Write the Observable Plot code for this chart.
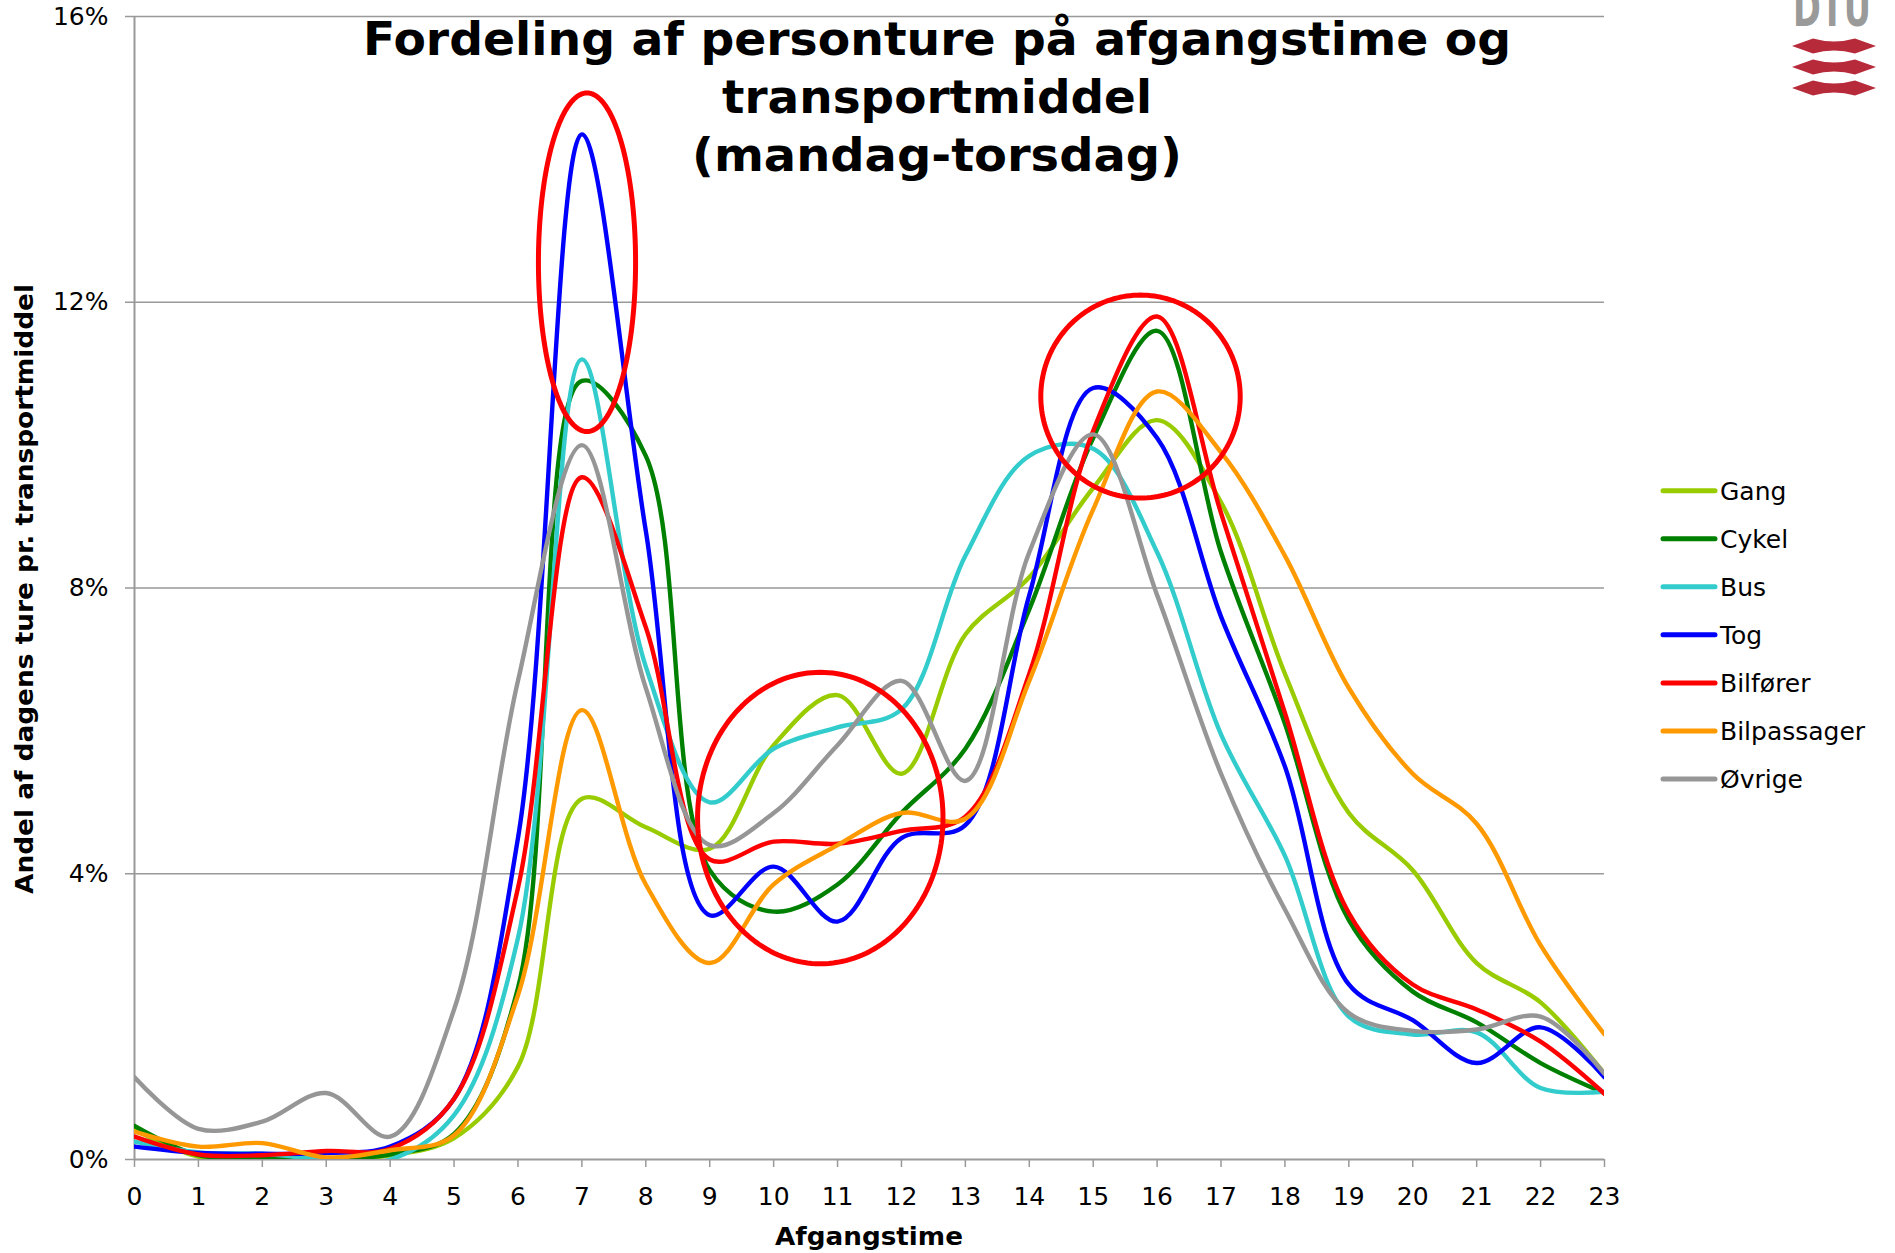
<!DOCTYPE html>
<html>
<head>
<meta charset="utf-8">
<script src="https://cdn.jsdelivr.net/npm/d3@7"></script>
<script src="https://cdn.jsdelivr.net/npm/@observablehq/plot@0.6"></script>
<style>
  html, body { margin: 0; padding: 0; background: #fff; }
  #wrap { position: relative; width: 1895px; height: 1253px; overflow: hidden; background: #fff; }
  #wrap > svg { position: absolute; left: 0; top: 0; }
</style>
</head>
<body>
<div id="wrap"></div>
<script>
// ---------- data ----------
const hours = [0, 1, 2, 3, 4, 5, 6, 7, 8, 9, 10, 11, 12, 13, 14, 15, 16, 17, 18, 19, 20, 21, 22, 23];
const yTicks = [0, 4, 8, 12, 16];
const gridTicks = [4, 8, 12, 16];

const seriesNames  = ["Gang", "Cykel", "Bus", "Tog", "Bilfører", "Bilpassager", "Øvrige"];
const seriesColors = ["#99cc00", "#008000", "#33cccc", "#0000ff", "#ff0000", "#ff9900", "#969696"];

// share of the day's trips (%) per departure hour
const gang        = [0.42, 0.04, 0.03, 0.00, 0.06, 0.30, 1.30, 5.05, 4.65, 4.35, 5.80, 6.50, 5.40, 7.35, 8.15, 9.40, 10.35, 9.20, 6.80, 4.85, 4.05, 2.75, 2.20, 1.20];
const cykel       = [0.47, 0.06, 0.03, 0.01, 0.07, 0.36, 2.40, 10.90, 9.85, 4.05, 3.47, 3.85, 4.85, 5.75, 7.70, 10.10, 11.60, 8.50, 6.10, 3.35, 2.35, 1.92, 1.35, 0.93];
const bus         = [0.25, 0.10, 0.08, 0.00, 0.00, 0.62, 3.10, 11.20, 6.90, 5.00, 5.75, 6.05, 6.30, 8.45, 9.85, 9.95, 8.50, 5.95, 4.25, 2.00, 1.75, 1.78, 1.00, 0.95];
const tog         = [0.18, 0.09, 0.08, 0.09, 0.18, 0.85, 4.50, 14.35, 8.80, 3.42, 4.10, 3.33, 4.50, 4.68, 7.90, 10.80, 10.10, 7.60, 5.50, 2.45, 1.95, 1.35, 1.85, 1.15];
const bilforer    = [0.32, 0.07, 0.06, 0.12, 0.15, 0.85, 3.80, 9.55, 7.45, 4.20, 4.45, 4.42, 4.60, 4.80, 6.80, 10.20, 11.80, 9.05, 6.25, 3.45, 2.45, 2.10, 1.65, 0.92];
const bilpassager = [0.39, 0.18, 0.23, 0.03, 0.13, 0.34, 2.30, 6.29, 3.85, 2.75, 3.85, 4.40, 4.85, 4.77, 6.70, 9.10, 10.75, 9.90, 8.45, 6.60, 5.40, 4.70, 3.00, 1.75];
const ovrige      = [1.15, 0.43, 0.53, 0.93, 0.32, 2.10, 6.70, 10.00, 6.60, 4.40, 4.85, 5.80, 6.70, 5.30, 8.50, 10.15, 7.90, 5.40, 3.50, 2.05, 1.80, 1.82, 2.00, 1.20];

const seriesValues = [gang, cykel, bus, tog, bilforer, bilpassager, ovrige];

// red highlight ellipses (centre hour, centre %, half-width in hours, half-height in %)
const highlightHour  = [7.08, 10.73, 15.74];
const highlightPct   = [12.56, 4.78, 10.68];
const highlightRHour = [0.76, 1.92, 1.56];
const highlightRPct  = [2.37, 2.04, 1.42];

const titleLines = ["Fordeling af personture på afgangstime og", "transportmiddel", "(mandag-torsdag)"];
const xLabel = "Afgangstime";
const yLabel = "Andel af dagens ture pr. transportmiddel";

// ---------- tables built from the arrays ----------
const table = seriesNames.flatMap((name, i) =>
  hours.map((h, j) => ({ series: name, hour: h, value: seriesValues[i][j] })));

const ellipsePts = highlightHour.flatMap((cx, k) =>
  d3.range(0, 181).map(i => {
    const t = (i / 180) * 2 * Math.PI;
    return { k, hour: cx + highlightRHour[k] * Math.cos(t), pct: highlightPct[k] + highlightRPct[k] * Math.sin(t) };
  }));

// ---------- chart ----------
const FONT = "'DejaVu Sans', Verdana, sans-serif";
const chart = Plot.plot({
  width: 1895,
  height: 1253,
  marginLeft: 134,
  marginRight: 291,
  marginTop: 16,
  marginBottom: 94,
  style: { fontFamily: FONT, fontSize: "24px", color: "#000", background: "#fff", overflow: "visible" },
  x: { domain: [0, 23] },
  y: { domain: [0, 16] },
  color: { domain: seriesNames, range: seriesColors },
  marks: [
    Plot.gridY(gridTicks, { stroke: "#999", strokeOpacity: 1, strokeWidth: 1.5 }),
    Plot.ruleY([0], { stroke: "#999", strokeWidth: 2 }),
    Plot.ruleX([0], { stroke: "#999", strokeWidth: 2 }),
    Plot.axisX(hours, { tickSize: 8, tickPadding: 20, fontSize: 25, stroke: "#999", strokeWidth: 1.5, fill: "#000", label: null, tickFormat: d => String(d) }),
    Plot.axisY(yTicks, { tickSize: 9, tickPadding: 17, fontSize: 25, stroke: "#999", strokeWidth: 1.5, fill: "#000", label: null, tickFormat: d => d + "%" }),
    Plot.line(table, { x: "hour", y: "value", z: "series", stroke: "series", strokeWidth: 4.4, curve: "catmull-rom", clip: true }),
    Plot.line(ellipsePts, { x: "hour", y: "pct", z: "k", stroke: "#ff0000", strokeWidth: 5, curve: "linear" })
  ]
});
document.getElementById("wrap").appendChild(chart);

// ---------- overlay: title, axis titles, legend, logo ----------
const ov = d3.select("#wrap").append("svg")
  .attr("width", 1895).attr("height", 1253)
  .style("position", "absolute").style("left", "0px").style("top", "0px")
  .style("pointer-events", "none");

const titleBase = [55, 113, 171];
const titleLen = [1148, 430, 490];
titleLines.forEach((t, i) => {
  ov.append("text")
    .attr("x", 937).attr("y", titleBase[i])
    .attr("text-anchor", "middle")
    .attr("font-family", FONT).attr("font-weight", "bold").attr("font-size", 46)
    .attr("textLength", titleLen[i]).attr("lengthAdjust", "spacingAndGlyphs")
    .attr("fill", "#000")
    .text(t);
});

ov.append("text")
  .attr("x", 869).attr("y", 1245)
  .attr("text-anchor", "middle")
  .attr("font-family", FONT).attr("font-weight", "bold").attr("font-size", 25)
  .attr("textLength", 188).attr("lengthAdjust", "spacingAndGlyphs")
  .text(xLabel);

ov.append("text")
  .attr("transform", "translate(33,589) rotate(-90)")
  .attr("text-anchor", "middle")
  .attr("font-family", FONT).attr("font-weight", "bold").attr("font-size", 24)
  .attr("textLength", 610).attr("lengthAdjust", "spacingAndGlyphs")
  .text(yLabel);

// legend
seriesNames.forEach((name, i) => {
  const y = 490.7 + i * 48.05;
  ov.append("line")
    .attr("x1", 1663).attr("x2", 1715).attr("y1", y).attr("y2", y)
    .attr("stroke", seriesColors[i]).attr("stroke-width", 5).attr("stroke-linecap", "round");
  ov.append("text")
    .attr("x", 1720).attr("y", y + 9.3)
    .attr("font-family", FONT).attr("font-size", 25).attr("fill", "#000")
    .text(name);
});

// DTU logo (top right corner, partly cut off as in the original slide)
ov.append("text")
  .attr("x", 1832).attr("y", 26)
  .attr("text-anchor", "middle")
  .attr("font-family", FONT).attr("font-weight", "bold").attr("font-size", 52)
  .attr("textLength", 78).attr("lengthAdjust", "spacingAndGlyphs")
  .attr("fill", "#9a9a9a")
  .text("DTU");
[46, 67, 88].forEach(c => {
  ov.append("path")
    .attr("d", `M1792,${c} L1813,${c - 7.5} Q1834,${c - 1.5} 1855,${c - 7.5} L1876,${c} L1855,${c + 7.5} Q1834,${c + 1.5} 1813,${c + 7.5} Z`)
    .attr("fill", "#b72a3a");
});
</script>
</body>
</html>
